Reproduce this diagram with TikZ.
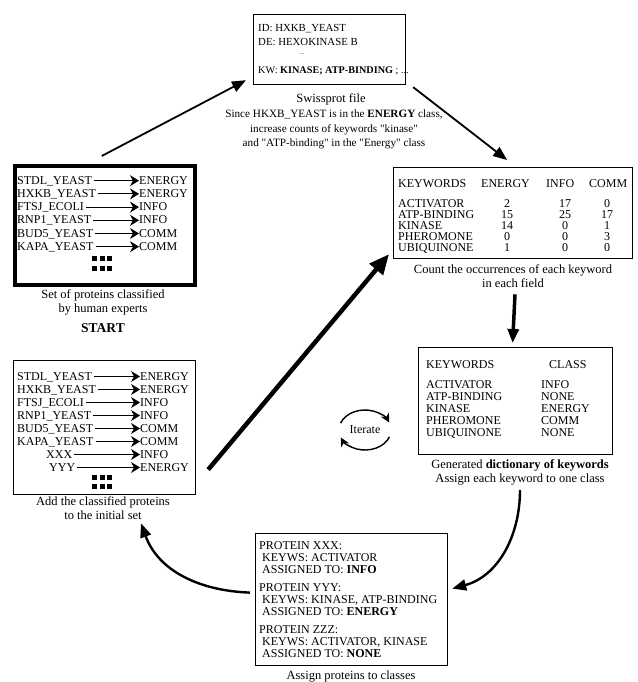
\documentclass[tikz,border=0pt]{standalone}
\usepackage{fontspec}
\setmainfont{Liberation Serif}
\usetikzlibrary{positioning,arrows.meta}

\begin{document}
\begin{tikzpicture}[x=1pt, y=-1pt,
    every node/.style={inner sep=0pt, font=\fontsize{12}{13}\selectfont},
    txt/.style={anchor=base west},
    row/.style={anchor=base west, text height=8pt, text depth=1pt},
    num/.style={anchor=base},
    note/.style={anchor=north, align=center, font=\fontsize{12.5}{14}\selectfont},
    box/.style={draw, line width=1.2pt, anchor=north west},
    flow/.style={line width=1.8pt, -{Triangle[length=14pt, width=11pt]}},
    bigflow/.style={line width=4.5pt, -{Triangle[length=20pt, width=17pt]}},
    pick/.style={line width=0.9pt, -{Stealth[length=9pt, width=11pt, inset=3pt]}},
    loopy/.style={line width=1.4pt, -{Stealth[length=9pt, width=9pt]}}
  ]
    \useasboundingbox (0,0) rectangle (637,682);

    % Swissprot entry
    \node[box, minimum width=152, minimum height=70] (swiss) at (253,14) {};
    \node[txt, font=\fontsize{10.8}{12}\selectfont] (swiss-id) at (258,32) {ID: HXKB\_YEAST};
    \node[txt, font=\fontsize{10.8}{12}\selectfont] (swiss-de) at (258,46) {DE: HEXOKINASE B};
    \node[num, font=\fontsize{6}{7}\selectfont] (swiss-dots) at (302,55) {...};
    \node[txt, font=\fontsize{10.2}{12}\selectfont] (swiss-kw) at (258,74) {KW: \textbf{KINASE; ATP-BINDING} ; ...};
    \node[note] (swisscap) at (331,93) {Swissprot file};
    \node[note, font=\fontsize{11.2}{14.5}\selectfont] (swissnote) at (334,110)
        {Since HKXB\_YEAST is in the \textbf{ENERGY} class,\\
         increase counts of keywords \textquotedbl kinase\textquotedbl\\
         and \textquotedbl ATP-binding\textquotedbl\ in the \textquotedbl Energy\textquotedbl\ class};

    % Initial set of proteins
    \node[box, line width=3.5pt, minimum width=180, minimum height=119] (start) at (13,164) {};
    \foreach \name/\cls [count=\i] in {STDL\_YEAST/ENERGY, HXKB\_YEAST/ENERGY,
        FTSJ\_ECOLI/INFO, RNP1\_YEAST/INFO, BUD5\_YEAST/COMM, KAPA\_YEAST/COMM}
    {
    \node[row] (s-name-\i) at (17,171+13.2*\i) {\name};
    \node[row] (s-cls-\i) at (139,171+13.2*\i) {\cls};
    \draw[pick] ([xshift=2pt]s-name-\i.east) -- (s-cls-\i.west);
    }
    \foreach \dx in {0,7.5,15}
        \foreach \dy in {0,10}
            \fill (92+\dx,256+\dy) rectangle ++(5,5);
    \node[note] (startcap) at (103,289) {Set of proteins classified\\by human experts};
    \node[num, font=\bfseries\fontsize{13.5}{15}\selectfont] (starttag) at (103,332) {START};

    % Keyword counts
    \node[box, minimum width=239, minimum height=91] (count) at (393,167) {};
    \node[txt] (c-head-kw) at (398,187) {KEYWORDS};
    \node[txt] (c-head-e) at (481,187) {ENERGY};
    \node[txt] (c-head-n) at (546,187) {INFO};
    \node[txt] (c-head-c) at (589,187) {COMM};
    \foreach \kw/\e/\n/\c [count=\i] in {ACTIVATOR/2/17/0, ATP-BINDING/15/25/17,
        KINASE/14/0/1, PHEROMONE/0/0/3, UBIQUINONE/1/0/0}
    {
    \node[txt] (c-kw-\i) at (398,196+11*\i) {\kw};
    \node[num] (c-e-\i) at (507,196+11*\i) {\e};
    \node[num] (c-n-\i) at (565,196+11*\i) {\n};
    \node[num] (c-c-\i) at (607,196+11*\i) {\c};
    }
    \node[note] (countcap) at (513,264) {Count the occurrences of each keyword\\in each field};

    % Dictionary of keywords
    \node[box, minimum width=194, minimum height=107] (dict) at (418,347) {};
    \node[txt] (d-head-kw) at (426,368) {KEYWORDS};
    \node[txt] (d-head-c) at (549,368) {CLASS};
    \foreach \kw/\cls [count=\i] in {ACTIVATOR/INFO, ATP-BINDING/NONE,
        KINASE/ENERGY, PHEROMONE/COMM, UBIQUINONE/NONE}
    {
    \node[txt] (d-kw-\i) at (426,376+12*\i) {\kw};
    \node[txt] (d-cls-\i) at (541,376+12*\i) {\cls};
    }
    \node[note] (dictcap) at (520,459)
        {Generated \textbf{dictionary of keywords}\\Assign each keyword to one class};

    % Assigned proteins
    \node[box, minimum width=192, minimum height=132] (prot) at (255,533) {};
    \node[anchor=north west, align=left, font=\fontsize{12}{12}\selectfont] (prot-txt) at (259,541.5)
        {PROTEIN XXX:\\
         \ KEYWS: ACTIVATOR\\
         \ ASSIGNED TO: \textbf{INFO}\\[6pt]
         PROTEIN YYY:\\
         \ KEYWS: KINASE, ATP-BINDING\\
         \ ASSIGNED TO: \textbf{ENERGY}\\[6pt]
         PROTEIN ZZZ:\\
         \ KEYWS: ACTIVATOR, KINASE\\
         \ ASSIGNED TO: \textbf{NONE}};
    \node[num, font=\fontsize{12.5}{14}\selectfont] (protcap) at (351,679) {Assign proteins to classes};

    % Enlarged set
    \node[box, minimum width=182, minimum height=134] (add) at (13,360) {};
    \foreach \name/\cls/\x [count=\i] in {STDL\_YEAST/ENERGY/17, HXKB\_YEAST/ENERGY/17,
        FTSJ\_ECOLI/INFO/17, RNP1\_YEAST/INFO/17, BUD5\_YEAST/COMM/17,
        KAPA\_YEAST/COMM/17, XXX/INFO/46, YYY/ENERGY/49}
    {
    \node[row] (a-name-\i) at (\x,367+13*\i) {\name};
    \node[row] (a-cls-\i) at (140,367+13*\i) {\cls};
    \draw[pick] ([xshift=2pt]a-name-\i.east) -- (a-cls-\i.west);
    }
    \foreach \dx in {0,7.5,15}
        \foreach \dy in {0,9}
            \fill (92+\dx,475+\dy) rectangle ++(5,5);
    \node[note] (addcap) at (103,496) {Add the classified proteins\\to the initial set};

    % Iterate
    \node (iter) at (365,430) {Iterate};
    \draw[loopy] ([shift={(-160:26 and 20)}]iter.center)
        arc[start angle=-160, end angle=-22, x radius=26, y radius=20];
    \draw[loopy] ([shift={(20:26 and 20)}]iter.center)
        arc[start angle=20, end angle=158, x radius=26, y radius=20];

    % Flow of the procedure
    \draw[flow] ([xshift=-3pt,yshift=8pt]start.north) -- ([xshift=-7pt,yshift=5pt]swiss.south west);
    \draw[flow] ([xshift=7pt,yshift=-2pt]swiss.south east) -- ([xshift=-6pt,yshift=7pt]count.north);
    \draw[line width=3.5pt, -{Triangle[length=14pt, width=11pt]}]
        ([xshift=2pt,yshift=-7pt]countcap.south) -- ([xshift=-3pt,yshift=4pt]dict.north);
    \draw[flow, line width=2.4pt] ([yshift=-5pt]dictcap.south) to[out=-90, in=15]
        ([xshift=4pt,yshift=11pt]prot.east);
    \draw[flow, line width=2.4pt] ([xshift=-5pt,yshift=7pt]prot.west) to[out=178, in=-70]
        ([xshift=38pt,yshift=-4pt]addcap.south);
    \draw[bigflow] ([xshift=12pt,yshift=-42pt]add.east) -- ([xshift=-4pt,yshift=5pt]count.south west);

\end{tikzpicture}
\end{document}
